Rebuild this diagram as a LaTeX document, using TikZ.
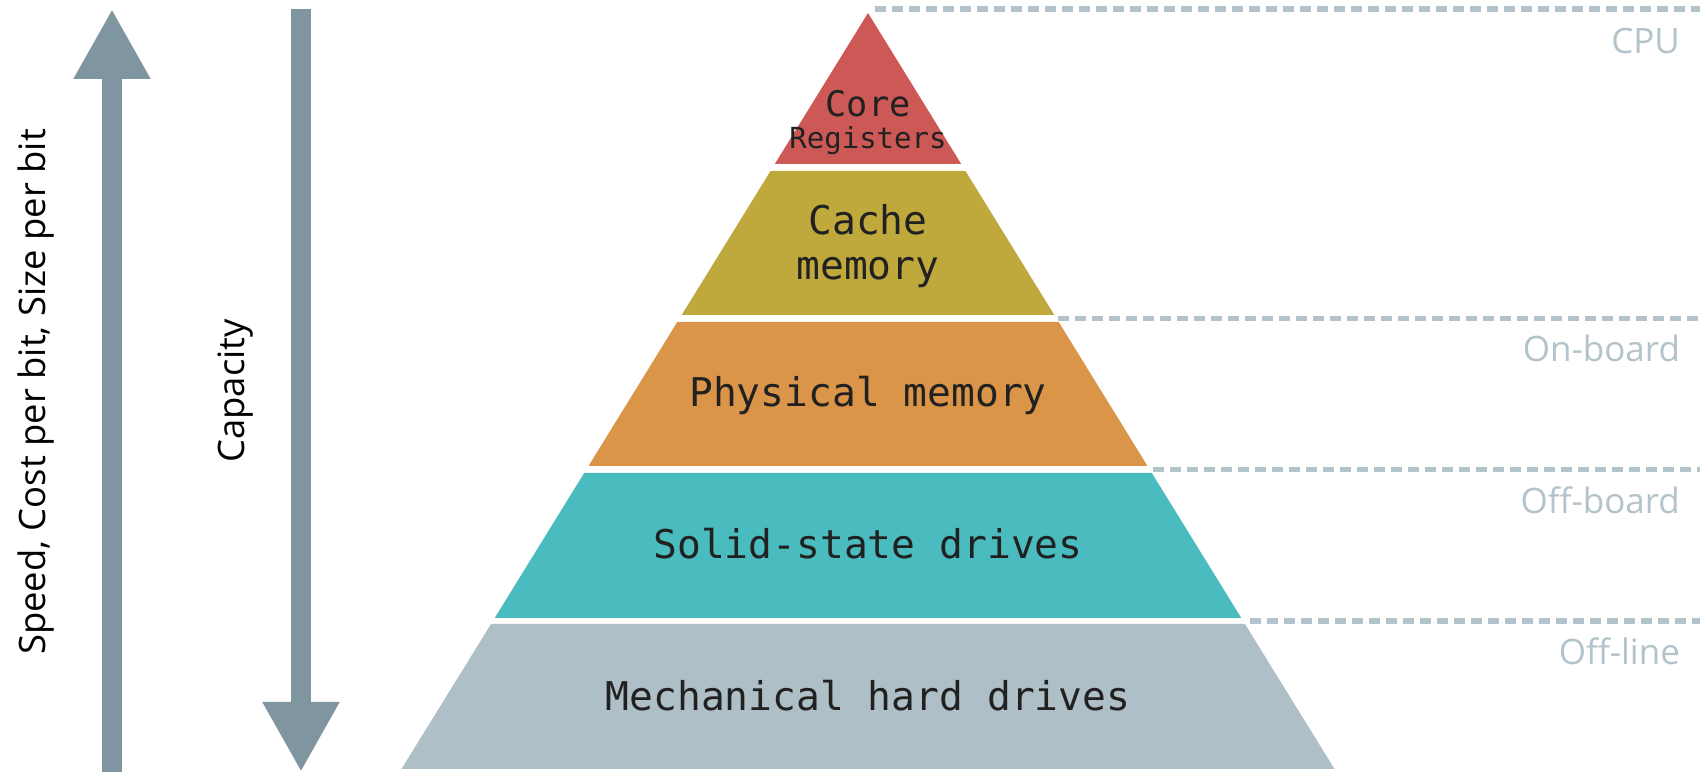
\documentclass[tikz,border=0pt]{standalone}
\usepackage{fontspec}
\setmainfont{Open Sans}
\setmonofont{DejaVu Sans Mono}
\usetikzlibrary{arrows.meta}
\definecolor{clrCore}{HTML}{CD5957}
\definecolor{clrCache}{HTML}{BFA83C}
\definecolor{clrPhys}{HTML}{DB9549}
\definecolor{clrSSD}{HTML}{4ABBBF}
\definecolor{clrHDD}{HTML}{AFBFC7}
\definecolor{clrAxis}{HTML}{7F96A0}
\definecolor{clrTier}{HTML}{B3C3CB}

\begin{document}
\begin{tikzpicture}[x=0.5pt, y=-0.5pt,
    lvltext/.style={font=\ttfamily\fontsize{19.8}{24}\selectfont, text=black!87, anchor=base},
    axisarrow/.style={line width=9.8pt, clrAxis, -{Triangle[width=36pt, length=35pt]}},
    tierline/.style={line width=2.8pt, clrTier, dash pattern=on 5.5pt off 3pt},
    tierlbl/.style={font=\fontsize{17.5}{21}\selectfont, text=clrTier, anchor=base east},
    axislbl/.style={font=\fontsize{18.2}{22}\selectfont, rotate=90},
]
\useasboundingbox (0,0) rectangle (1705,774);

% Axis arrows
\coordinate (spdlo) at (112,772);
\coordinate (spdhi) at (112,9);
\coordinate (caphi) at (301,9);
\coordinate (caplo) at (301,772);
\draw[axisarrow] (spdlo) -- (spdhi);
\draw[axisarrow] (caphi) -- (caplo);
\node[axislbl] (spdlbl) at (36,392) {Speed, Cost per bit, Size per bit};
\node[axislbl] (caplbl) at (236,391) {Capacity};

% Pyramid layers
\fill[clrCore] (868,13) -- (961.2,164) -- (774.8,164) -- cycle;
\fill[clrCache] (770.5,171) -- (965.5,171) -- (1054.3,315) -- (681.7,315) -- cycle;
\fill[clrPhys] (677.3,322) -- (1058.7,322) -- (1147.5,466) -- (588.5,466) -- cycle;
\fill[clrSSD] (584.2,473) -- (1151.8,473) -- (1241.3,618) -- (494.7,618) -- cycle;
\fill[clrHDD] (491,624) -- (1245,624) -- (1334.5,769) -- (401.5,769) -- cycle;

% Layer labels
\node[lvltext, font=\ttfamily\fontsize{17.6}{21}\selectfont] (core) at (868,117) {Core};
\node[lvltext, font=\ttfamily\fontsize{14.5}{17}\selectfont] (regs) at (868,149) {Registers};
\node[lvltext] (cache) at (868,235) {Cache};
\node[lvltext] (cachemem) at (868,280) {memory};
\node[lvltext] (phys) at (868,407) {Physical memory};
\node[lvltext] (ssd) at (868,559) {Solid-state drives};
\node[lvltext] (hdd) at (868,711) {Mechanical hard drives};

% Tier boundaries
\coordinate (cpuL) at (875,9);        \coordinate (cpuR) at (1700,9);
\coordinate (onbL) at (1058,318.5);   \coordinate (onbR) at (1700,318.5);
\coordinate (offbL) at (1153,469.5);  \coordinate (offbR) at (1700,469.5);
\coordinate (offlL) at (1250,621);    \coordinate (offlR) at (1700,621);
\draw[tierline] (cpuL) -- (cpuR);
\draw[tierline] (onbL) -- (onbR);
\draw[tierline] (offbL) -- (offbR);
\draw[tierline] (offlL) -- (offlR);

\node[tierlbl] (cpu) at (1687,54) {CPU};
\node[tierlbl] (onboard) at (1687,362) {On-board};
\node[tierlbl] (offboard) at (1687,514) {Off-board};
\node[tierlbl] (offline) at (1687,665) {Off-line};

\end{tikzpicture}
\end{document}
